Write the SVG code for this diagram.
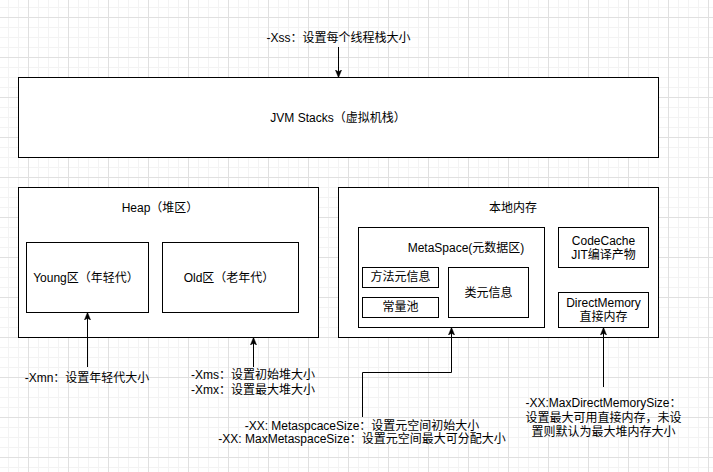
<svg xmlns="http://www.w3.org/2000/svg" width="713" height="472" viewBox="0 0 713 472">
<style>
  .box { fill: #ffffff; stroke: #000000; stroke-width: 1; }
  .edge { fill: none; stroke: #000000; stroke-width: 1; }
  text { font-family: "Liberation Sans", Arial, "Noto Sans CJK SC", sans-serif; font-size: 12px; fill: #000000; text-anchor: middle; }
</style>
<defs>
  <pattern id="minor" x="8" y="7" width="10" height="10" patternUnits="userSpaceOnUse">
    <path d="M0.5,0 V10 M0,0.5 H10" stroke="#f3f3f3" stroke-width="1" fill="none"/>
  </pattern>
  <pattern id="major" x="28" y="17" width="40" height="40" patternUnits="userSpaceOnUse">
    <path d="M0.5,0 V40 M0,0.5 H40" stroke="#e0e0e0" stroke-width="1" fill="none"/>
  </pattern>
  <marker id="arrow" viewBox="0 0 10 10" refX="9" refY="5" markerWidth="8" markerHeight="8" markerUnits="userSpaceOnUse" orient="auto">
    <path d="M0,1 L10,5 L0,9 L2.5,5 Z" fill="#000000" stroke="#000000" stroke-width="0.5"/>
  </marker>
</defs>
<rect width="713" height="472" fill="#ffffff"/>
<rect width="713" height="472" fill="url(#minor)"/>
<rect width="713" height="472" fill="url(#major)"/>

<g id="jvm-stacks">
  <rect class="box" x="18.5" y="77.5" width="640" height="80"/>
  <text x="338" y="122">JVM Stacks（虚拟机栈）</text>
</g>

<g id="heap">
  <rect class="box" x="18.5" y="187.5" width="300" height="150"/>
  <text x="160" y="212">Heap（堆区）</text>
</g>
<g id="young">
  <rect class="box" x="26.5" y="242.5" width="122" height="70"/>
  <text x="86" y="282">Young区（年轻代）</text>
</g>
<g id="old">
  <rect class="box" x="162.5" y="242.5" width="136" height="70"/>
  <text x="229" y="282">Old区（老年代）</text>
</g>

<g id="native-memory">
  <rect class="box" x="338.5" y="187.5" width="320" height="150"/>
  <text x="513" y="212">本地内存</text>
</g>
<g id="metaspace">
  <rect class="box" x="358.5" y="227.5" width="186" height="100"/>
  <text x="466" y="252">MetaSpace(元数据区)</text>
</g>
<g id="method-meta">
  <rect class="box" x="362.5" y="267.5" width="76" height="20"/>
  <text x="400.5" y="281">方法元信息</text>
</g>
<g id="constant-pool">
  <rect class="box" x="362.5" y="297.5" width="76" height="20"/>
  <text x="400.5" y="311">常量池</text>
</g>
<g id="class-meta">
  <rect class="box" x="448.5" y="267.5" width="80" height="50"/>
  <text x="488.5" y="297">类元信息</text>
</g>
<g id="code-cache">
  <rect class="box" x="558.5" y="227.5" width="90" height="40"/>
  <text x="603.5" y="245">CodeCache</text>
  <text x="603.5" y="259">JIT编译产物</text>
</g>
<g id="direct-memory">
  <rect class="box" x="558.5" y="292.5" width="90" height="35"/>
  <text x="603.5" y="307">DirectMemory</text>
  <text x="603.5" y="321">直接内存</text>
</g>

<g id="label-xss">
  <text x="338.5" y="42">-Xss：设置每个线程栈大小</text>
</g>
<g id="label-xmn">
  <text x="87" y="382">-Xmn：设置年轻代大小</text>
</g>
<g id="label-xms">
  <text x="253" y="379">-Xms：设置初始堆大小</text>
  <text x="253" y="394">-Xmx：设置最大堆大小</text>
</g>
<g id="label-metaspace">
  <text x="362" y="430">-XX: MetaspcaceSize：设置元空间初始大小</text>
  <text x="362" y="443">-XX: MaxMetaspaceSize：设置元空间最大可分配大小</text>
</g>
<g id="label-direct">
  <text x="603.5" y="407">-XX:MaxDirectMemorySize：</text>
  <text x="603.5" y="422">设置最大可用直接内存，未设</text>
  <text x="603.5" y="436">置则默认为最大堆内存大小</text>
</g>

<g id="connectors">
  <path class="edge" d="M338.5,47 V77" marker-end="url(#arrow)"/>
  <path class="edge" d="M87.5,367 V313" marker-end="url(#arrow)"/>
  <path class="edge" d="M253.5,367 V338" marker-end="url(#arrow)"/>
  <path class="edge" d="M362.5,417 V372.5 H451.5 V328" marker-end="url(#arrow)"/>
  <path class="edge" d="M603.5,387 V328" marker-end="url(#arrow)"/>
</g>
</svg>
